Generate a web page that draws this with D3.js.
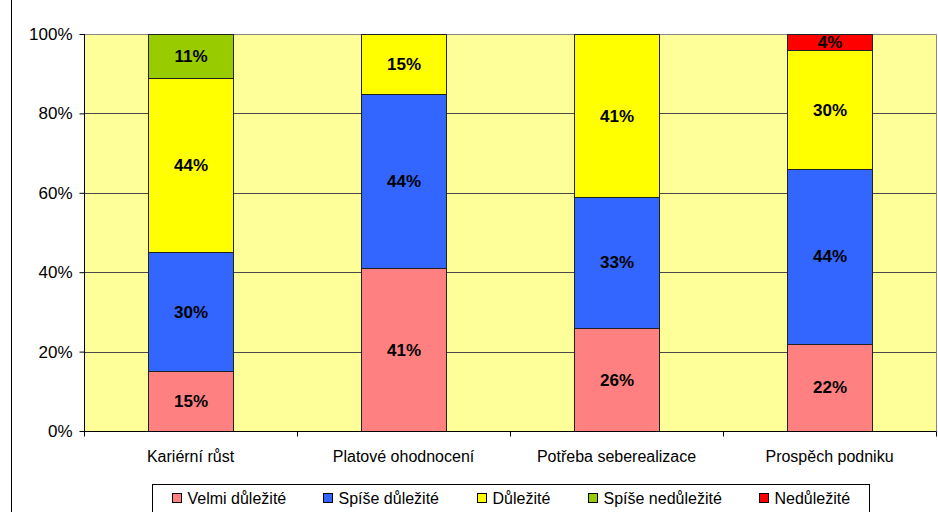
<!DOCTYPE html>
<html>
<head>
<meta charset="utf-8">
<script src="https://cdn.jsdelivr.net/npm/d3@7/dist/d3.min.js"></script>
<style>
  html, body { margin: 0; padding: 0; background: #ffffff; }
  svg { display: block; font-family: "Liberation Sans", Arial, sans-serif; }
</style>
</head>
<body>
<svg id="chart" width="938" height="512"></svg>
<script>
// Categories and shares (%) of each answer
const categories = ["Kariérní růst", "Platové ohodnocení", "Potřeba seberealizace", "Prospěch podniku"];
const seriesNames = ["Velmi důležité", "Spíše důležité", "Důležité", "Spíše nedůležité", "Nedůležité"];
const velmiDulezite = [15, 41, 26, 22];
const spiseDulezite = [30, 44, 33, 44];
const dulezite = [44, 15, 41, 30];
const spiseNedulezite = [11, 0, 0, 0];
const nedulezite = [0, 0, 0, 4];
const yTicks = [0, 0.2, 0.4, 0.6, 0.8, 1.0];

const seriesValues = [velmiDulezite, spiseDulezite, dulezite, spiseNedulezite, nedulezite];
const colors = ["#FF8080", "#3366FF", "#FFFF00", "#99CC00", "#FF0000"];
const FONT = "Liberation Sans, Arial, sans-serif";

const svg = d3.select("#chart");
const W = 938, H = 512;
const plot = { left: 84, top: 34, right: 936, bottom: 431 };

// outer chart frame
svg.append("rect").attr("x", 11.5).attr("y", -2).attr("width", W + 4).attr("height", H + 4)
  .attr("fill", "#fff").attr("stroke", "#000").attr("stroke-width", 1);

const x = d3.scaleBand().domain(categories).range([plot.left, plot.right]).paddingInner(0.6).paddingOuter(0.3);
const y = d3.scaleLinear().domain([0, 1]).range([plot.bottom, plot.top]);

// plot background
svg.append("rect").attr("x", plot.left).attr("y", plot.top)
  .attr("width", plot.right - plot.left).attr("height", plot.bottom - plot.top)
  .attr("fill", "#FFFF99");

// gridlines
svg.append("g").selectAll("line").data(yTicks.filter(d => d > 0 && d < 1)).join("line")
  .attr("x1", plot.left).attr("x2", plot.right)
  .attr("y1", d => Math.round(y(d)) + 0.5).attr("y2", d => Math.round(y(d)) + 0.5)
  .attr("stroke", "#4a4a4a").attr("stroke-width", 1);

// plot border (top and right)
svg.append("path")
  .attr("d", `M${plot.left},${plot.top + 0.5}H${plot.right + 0.5}V${plot.bottom}`)
  .attr("fill", "none").attr("stroke", "#888").attr("stroke-width", 1);

// stacked data
const rows = categories.map((c, i) => {
  const o = { cat: c };
  seriesNames.forEach((s, k) => o[s] = seriesValues[k][i] / 100);
  return o;
});
const stacked = d3.stack().keys(seriesNames)(rows);

const layers = svg.append("g").selectAll("g").data(stacked).join("g")
  .attr("fill", (d, i) => colors[i]);

layers.selectAll("rect").data(d => d.filter(p => p[1] - p[0] > 0)).join("rect")
  .attr("x", d => Math.round(x(d.data.cat)) + 0.5)
  .attr("width", Math.round(x.bandwidth()))
  .attr("y", d => Math.round(y(d[1])) + 0.5)
  .attr("height", d => Math.round(y(d[0])) - Math.round(y(d[1])))
  .attr("stroke", "#222").attr("stroke-width", 1);

// value labels
layers.selectAll("text").data(d => d.filter(p => p[1] - p[0] > 0)).join("text")
  .attr("x", d => x(d.data.cat) + x.bandwidth() / 2 + 0.5)
  .attr("y", d => (y(d[0]) + y(d[1])) / 2)
  .attr("dy", "0.36em")
  .attr("text-anchor", "middle")
  .attr("font-family", FONT)
  .attr("font-size", 17).attr("font-weight", "bold").attr("fill", "#000")
  .text(d => Math.round((d[1] - d[0]) * 100) + "%");

// y axis
const yAxis = svg.append("g").attr("transform", `translate(${plot.left + 0.5},0)`)
  .call(d3.axisLeft(y).tickValues(yTicks).tickFormat(d3.format(".0%")).tickSize(5).tickPadding(7));
yAxis.attr("font-size", null).attr("font-family", null);
yAxis.select(".domain").attr("stroke", "#000").attr("d", `M0,${plot.top}V${plot.bottom + 0.5}`);
yAxis.selectAll(".tick line").attr("stroke", "#000");
yAxis.selectAll(".tick text").attr("font-size", 17).attr("fill", "#000").attr("font-family", FONT);

// x axis
const xAxis = svg.append("g").attr("transform", `translate(0,${plot.bottom + 0.5})`)
  .call(d3.axisBottom(x).tickSize(0).tickPadding(19));
xAxis.attr("font-size", null).attr("font-family", null);
xAxis.select(".domain").attr("stroke", "#000").attr("d", `M${plot.left},0H${plot.right + 0.5}`);
xAxis.selectAll(".tick text").attr("font-size", 16).attr("fill", "#000").attr("font-family", FONT);
// category boundary ticks
const step = (plot.right - plot.left) / categories.length;
xAxis.append("g").selectAll("line").data(d3.range(categories.length + 1)).join("line")
  .attr("x1", i => Math.round(plot.left + i * step) + 0.5)
  .attr("x2", i => Math.round(plot.left + i * step) + 0.5)
  .attr("y1", 0).attr("y2", 5).attr("stroke", "#000");

// legend
const legend = svg.append("g");
legend.append("rect").attr("x", 152.5).attr("y", 484.5)
  .attr("width", 717).attr("height", 40).attr("fill", "#fff").attr("stroke", "#000");
const items = legend.selectAll("g.item").data(seriesNames).join("g").attr("class", "item");
items.append("rect").attr("width", 9).attr("height", 9).attr("y", 493.5)
  .attr("fill", (d, i) => colors[i]).attr("stroke", "#000");
items.append("text").attr("x", 15).attr("y", 498).attr("dy", "0.36em")
  .attr("font-family", FONT).attr("font-size", 16).attr("fill", "#000").text(d => d);
const widths = [];
items.each(function () { widths.push(d3.select(this).select("text").node().getComputedTextLength() + 15); });
const gap = 38;
const total = d3.sum(widths) + gap * (widths.length - 1);
let cx = 152 + (717 - total) / 2;
items.attr("transform", (d, i) => { const t = `translate(${Math.round(cx) + 0.5},0)`; cx += widths[i] + gap; return t; });
</script>
</body>
</html>
